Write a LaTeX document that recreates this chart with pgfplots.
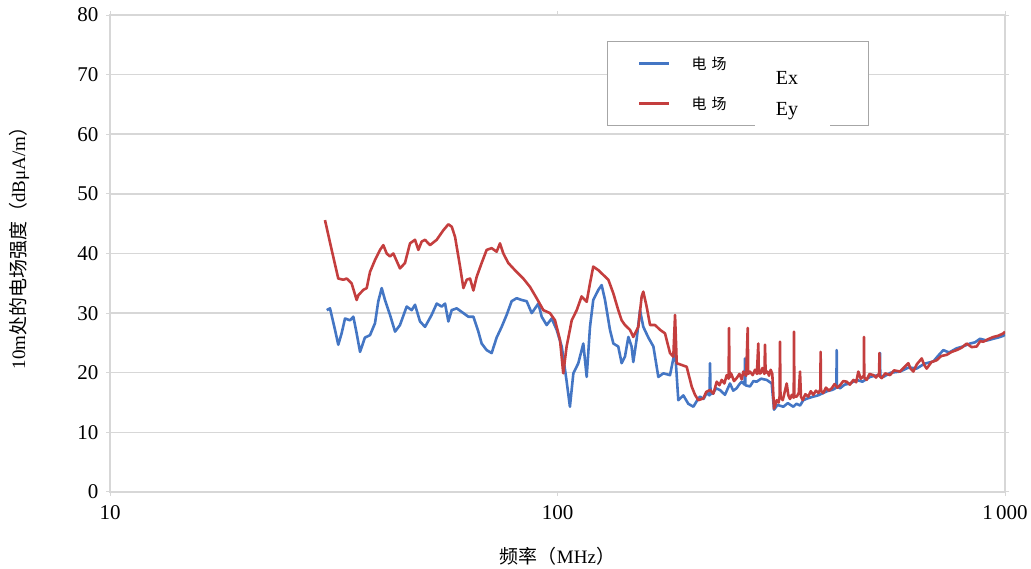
\documentclass[border=0pt]{standalone}
\usepackage{fontspec}
\setmainfont{Liberation Serif}
\newfontfamily\cjk{Noto Sans CJK SC}
\usepackage{pgfplots}
\pgfplotsset{compat=1.18}
\definecolor{exblue}{RGB}{68,118,196}
\definecolor{eyred}{RGB}{196,62,62}
\definecolor{gridgray}{RGB}{215,215,215}
\begin{document}
\begin{tikzpicture}
\begin{semilogxaxis}[
  scale only axis, width=895pt, height=477pt,
  xmin=10, xmax=1000, ymin=0, ymax=80,
  xtick={10,100,1000}, xticklabels={10,100,1\,000},
  xminorticks=false,
  ytick={0,10,...,80},
  ymajorgrids, major grid style={gridgray, line width=1.5pt},
  axis line style={gridgray, line width=1.5pt},
  tick style={gridgray, line width=1pt},
  tick align=outside, major tick length=4pt,
  /pgf/number format/assume math mode=true,
  tick label style={font=\fontsize{21}{21}\selectfont},
  yticklabel style={xshift=-4pt},
  xticklabel style={yshift=-6pt},
  xlabel={{\cjk 频率（}MHz{\cjk ）}},
  ylabel={10m{\cjk 处的电场强度（}dBμA/m{\cjk ）}},
  label style={font=\fontsize{19}{19}\selectfont},
  xlabel style={at={(axis description cs:0.5,0)}, anchor=center, yshift=-64pt},
  ylabel style={at={(axis description cs:0,0.5)}, anchor=center, yshift=91pt, xshift=10pt},
  legend style={at={(rel axis cs:0.555,0.9455)}, anchor=north west,
    draw=gray!70, line width=1pt, fill=white,
    inner xsep=31pt, inner ysep=13pt, row sep=22pt,
    font=\cjk\fontsize{15}{15}\selectfont},
  legend cell align=left,
  legend image code/.code={\draw[#1, line width=2.5pt] (0pt,0pt) -- (30pt,0pt);},
]
\addplot[exblue, line width=2.6pt, line join=round] coordinates {
(30.50,30.5) (31.02,30.8) (31.83,27.2) (32.37,24.7) (32.93,26.6) (33.51,29.1)
(34.39,28.8) (34.98,29.4) (35.58,26.6) (36.21,23.5) (37.13,25.9) (38.11,26.3)
(39.10,28.3) (39.78,32.0) (40.47,34.2) (41.16,32.2) (42.24,29.7) (43.35,26.9)
(44.46,28.0) (46.02,31.1) (47.22,30.5) (48.04,31.4) (49.29,28.6) (50.58,27.7)
(52.33,29.7) (53.71,31.6) (55.11,31.1) (56.07,31.6) (57.03,28.6) (58.02,30.5)
(59.54,30.8) (61.62,30.0) (63.20,29.4) (64.87,29.4) (66.55,26.9) (67.69,24.9)
(69.45,23.8) (71.26,23.3) (73.12,25.9) (75.04,27.7) (76.98,29.7) (78.99,32.0)
(81.04,32.5) (83.17,32.2) (85.33,32.0) (87.58,30.0) (90.61,31.6) (92.18,29.4)
(94.58,28.0) (97.05,29.1) (99.57,27.2) (102.2,24.4) (104.8,18.6) (106.6,14.3)
(108.5,19.9) (111.3,21.6) (114.2,24.9) (116.2,19.3) (118.2,27.7) (120.2,32.2)
(123.4,33.9) (125.5,34.7) (127.7,32.2) (131.0,27.2) (133.3,24.9) (136.7,24.4)
(139.1,21.6) (141.5,22.7) (144.0,26.0) (146.4,24.4) (147.7,21.8) (150.3,25.7)
(152.9,30.5) (155.5,27.7) (159.6,25.9) (163.8,24.4) (168.0,19.3) (172.4,19.9)
(178.4,19.6) (183.1,23.8) (186.2,15.4) (191.1,16.2) (196.0,14.8) (201.2,14.3)
(206.4,15.7) (208.2,16.0) (212,15.6) (215.5,16.6) (218.6,16.2) (219.2,21.6)
(219.8,16.4) (222.9,16.6) (226,17.4) (230.7,17.1) (236.7,16.3) (242.9,18.2)
(247,17.0) (251.4,17.4) (254.5,18.0) (257.9,18.5) (261.8,18.0) (262.4,22.4)
(263.0,17.9) (269.2,17.7) (274,18.6) (278.7,18.5) (285,19.0) (293.4,18.8)
(301.1,18.2) (304.7,13.8) (310,14.6) (319.7,14.3) (327,14.9) (336.5,14.3)
(342,14.8) (348.3,14.5) (354.3,15.4) (362,15.7) (373.0,16.0) (382,16.2)
(392.6,16.6) (400,16.9) (410.0,17.1) (416,17.3) (420.0,17.6) (420.6,23.8)
(421.2,17.7) (428.0,17.4) (438,18.0) (450.5,18.2) (466.2,18.8) (480,18.5)
(499.3,19.3) (512,19.5) (525.1,19.6) (525.7,23.3) (526.3,19.5) (534.7,19.3)
(555,20.0) (582.7,20.2) (610,20.9) (634.7,20.7) (660,21.5) (691.8,21.9)
(710,22.9) (728.1,23.8) (750,23.4) (779.8,24.1) (805,24.4) (835.3,24.9)
(857,25.1) (879.4,25.7) (910,25.4) (941.7,25.7) (965,25.9) (991.5,26.2) (1000,26.4)
};
\addlegendentry{\makebox[163pt][l]{\hspace{19pt}电\hspace{5pt}场}}
\addplot[eyred, line width=2.6pt, line join=round] coordinates {
(30.23,45.6) (31.29,40.6) (32.37,35.8) (33.22,35.6) (33.80,35.8) (34.67,35.0)
(35.58,32.2) (35.89,33.0) (36.83,33.9) (37.47,34.2) (38.11,36.9) (39.10,38.9)
(40.12,40.6) (40.81,41.4) (41.52,40.0) (42.24,39.5) (42.97,40.0) (44.46,37.5)
(45.62,38.4) (46.82,41.7) (48.04,42.3) (48.87,40.6) (49.72,42.0) (50.58,42.3)
(51.89,41.4) (53.71,42.3) (55.58,43.9) (57.03,44.9) (58.02,44.5) (59.03,42.8)
(60.57,37.8) (61.62,34.2) (62.68,35.6) (63.76,35.8) (64.87,33.8) (65.99,36.1)
(67.69,38.4) (69.45,40.6) (71.26,40.9) (73.12,40.3) (74.39,41.7) (75.68,40.0)
(77.65,38.4) (81.04,36.9) (83.87,35.8) (86.80,34.4) (89.83,32.5) (92.97,30.5)
(96.20,30.0) (98.72,28.8) (101.3,25.5) (103.0,19.9) (104.8,24.4) (107.6,28.8)
(110.4,30.5) (113.2,32.8) (116.2,31.9) (118.2,35.0) (120.2,37.8) (123.4,37.2)
(126.6,36.4) (129.9,35.6) (133.3,33.3) (136.7,30.5) (139.1,28.8) (141.5,28.0)
(145.2,27.2) (147.7,26.0) (151.6,27.7) (154.2,32.8) (155.5,33.6) (158.2,31.1)
(161.0,28.0) (165.2,28.0) (169.5,27.2) (173.9,26.6) (178.4,23.3) (181.5,22.7)
(183.1,29.7) (184.7,21.6) (189.5,21.3) (194.4,21.0) (199.5,17.7) (202.9,16.3)
(206.4,15.4) (211.8,15.7) (215,16.8) (219.2,17.1) (223,16.5) (226.9,18.5)
(230,17.9) (232.8,18.8) (236,18.2) (238.8,19.6) (241.2,19.0) (241.7,27.5)
(242.3,19.2) (244.2,19.9) (248,18.6) (251.4,19.1) (255,19.8) (258,18.9)
(260.2,20.2) (264,19.5) (266.1,27.5) (266.8,19.8) (269.2,20.2) (273,19.6)
(276.3,20.5) (279,19.8) (281.0,24.9) (281.8,19.9) (284.4,19.9) (287,20.8)
(290.0,19.8) (290.9,24.7) (291.8,20.0) (294.4,20.2) (297,19.5) (299.5,20.5)
(302,19.8) (304.7,14.0) (308.9,15.4) (312,15.0) (313.5,16.0) (314.2,25.2)
(315,16.0) (318.6,15.4) (322,16.8) (325.2,18.2) (328,16.2) (330.8,15.6)
(334,16.3) (337.2,15.8) (337.7,26.9) (338.3,16.0) (342.4,16.0) (346,16.6)
(348.3,20.2) (350,16.0) (353.1,15.4) (358,16.4) (363.5,16.0) (368,16.9)
(373.0,16.3) (378,17.0) (383,16.6) (386.7,17.2) (387.3,23.5) (388,17.0)
(392.6,16.6) (398,17.5) (404,17.0) (410.0,17.4) (416,18.1) (422,17.5)
(428.0,17.9) (435,18.6) (442.9,18.5) (450,18.0) (458.4,18.8) (465,18.4)
(470.1,20.2) (476,19.0) (483.6,19.5) (484.1,26.0) (484.8,19.2) (490.8,18.8)
(498,19.8) (507.9,19.6) (515,19.2) (523.4,19.9) (524.0,23.3) (524.7,19.4)
(530.3,19.1) (540,19.9) (553.5,19.6) (565,20.4) (582.7,20.2) (595,20.9)
(608.1,21.6) (615,20.7) (624.0,20.2) (635,21.4) (651.4,22.4) (660,21.3)
(668.4,20.7) (685,21.8) (703.7,22.1) (720,22.8) (740.7,23.0) (760,23.5)
(779.8,23.8) (800,24.2) (821.1,24.9) (842,24.3) (864.5,24.4) (880,25.3)
(894.5,25.2) (915,25.6) (941.7,26.0) (965,26.2) (991.5,26.6) (1000,26.9)
};
\addlegendentry{\makebox[163pt][l]{\hspace{19pt}电\hspace{5pt}场}}
\coordinate (O) at (rel axis cs:0,0);
\coordinate (P1) at (rel axis cs:0.7207,0.8994);
\coordinate (P2) at (rel axis cs:0.8045,0.7631);
\coordinate (EX) at (rel axis cs:0.7564,0.868);
\coordinate (EY) at (rel axis cs:0.7564,0.7987);
\end{semilogxaxis}
\fill[white] (P1) rectangle (P2);
\node[font=\fontsize{20}{20}\selectfont] at (EX) {Ex};
\node[font=\fontsize{20}{20}\selectfont] at (EY) {Ey};
\pgfresetboundingbox
\path (O) ++(-110pt,-77pt) rectangle ++(1031pt,569pt);
\end{tikzpicture}
\end{document}
